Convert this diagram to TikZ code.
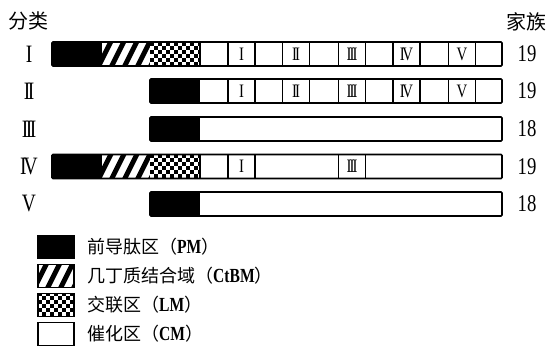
\documentclass[tikz,border=0pt]{standalone}
\usepackage{fontspec}
\setmainfont{Liberation Serif}[FakeStretch=0.78]
\newfontfamily\cjk{Noto Sans CJK SC}
\newcommand\rnI{I}
\newcommand\rnII{I\kern-0.1em I}
\newcommand\rnIII{I\kern-0.1em I\kern-0.1em I}
\newcommand\rnIV{I\kern-0.12em V}
\newcommand\rnV{V}
\newcommand\lgcjk[1]{{\cjk\fontsize{18}{18}\selectfont #1}}
\begin{document}
\begin{tikzpicture}[x=1pt,y=-1pt,
 seg/.style={inner sep=0pt, outer sep=0pt, minimum height=24pt, anchor=west},
 blk/.style={seg, fill=black},
 hatchfill/.style={path picture={
   \fill[white] (path picture bounding box.south west) rectangle (path picture bounding box.north east);
   \foreach \k in {-2,...,5}{
     \fill[black] ([xshift=\k*13pt+7pt]path picture bounding box.south west) -- ++(5.5,0) -- ++(12,-24) -- ++(-5.5,0) -- cycle;}
 }},
 checkfill/.style={path picture={
   \fill[white] (path picture bounding box.south west) rectangle (path picture bounding box.north east);
   \foreach \i in {0,...,12}{\foreach \j in {0,...,6}{
     \pgfmathtruncatemacro\p{mod(\i+\j,2)}
     \ifnum\p=1 \fill[black] ([xshift=\i*4pt,yshift=\j*4pt]path picture bounding box.south west) rectangle ++(4,-4);\fi}}
 }},
 frame/.style={seg, draw=black, line width=1.6pt, rounded corners=1pt},
 dom/.style={inner sep=0pt, outer sep=0pt, minimum height=24pt, draw=black, line width=1.6pt, minimum width=27pt, font=\fontsize{19}{19}\selectfont},
 rowlab/.style={font=\fontsize{25}{25}\selectfont},
 fam/.style={font=\fontsize{24}{24}\selectfont},
 head/.style={font=\cjk\fontsize{20}{20}\selectfont},
 legbox/.style={inner sep=0pt, outer sep=0pt, draw=black, line width=1.6pt, minimum width=36pt, minimum height=23pt, anchor=west},
 legtext/.style={anchor=west, font=\fontsize{20}{20}\selectfont, inner sep=0pt}
]
\useasboundingbox (0,0) rectangle (549,347);

% headers
\node[head] (hcls) at (29,21) {分类};
\node[head] (hfam) at (526,22) {家族};

% ---------- row I ----------
\node[blk, minimum width=50pt] (pm1) at (52,54) {};
\node[seg, hatchfill, minimum width=48pt] (cb1) at (102,54) {};
\node[seg, checkfill, minimum width=50pt] (lm1) at (150,54) {};
\node[frame, minimum width=450pt] (bar1) at (52,54) {};
\draw[line width=1.6pt] (lm1.north east) -- (lm1.south east);
\node[dom] (d11) at (241.5,54) {\rnI};
\node[dom] (d12) at (296,54) {\rnII};
\node[dom] (d13) at (352,54) {\rnIII};
\node[dom] (d14) at (406.5,54) {\rnIV};
\node[dom] (d15) at (462,54) {\rnV};

% ---------- row II ----------
\node[blk, minimum width=50pt] (pm2) at (150,91) {};
\node[frame, minimum width=352pt] (bar2) at (150,91) {};
\node[dom] (d21) at (241.5,91) {\rnI};
\node[dom] (d22) at (296,91) {\rnII};
\node[dom] (d23) at (352,91) {\rnIII};
\node[dom] (d24) at (406.5,91) {\rnIV};
\node[dom] (d25) at (462,91) {\rnV};

% ---------- row III ----------
\node[blk, minimum width=50pt] (pm3) at (150,129) {};
\node[frame, minimum width=352pt] (bar3) at (150,129) {};

% ---------- row IV ----------
\node[blk, minimum width=50pt] (pm4) at (52,166.5) {};
\node[seg, hatchfill, minimum width=48pt] (cb4) at (102,166.5) {};
\node[seg, checkfill, minimum width=50pt] (lm4) at (150,166.5) {};
\node[frame, minimum width=450pt] (bar4) at (52,166.5) {};
\draw[line width=1.6pt] (lm4.north east) -- (lm4.south east);
\node[dom] (d41) at (241.5,166.5) {\rnI};
\node[dom] (d43) at (352,166.5) {\rnIII};

% ---------- row V ----------
\node[blk, minimum width=50pt] (pm5) at (150,204) {};
\node[frame, minimum width=352pt] (bar5) at (150,204) {};

% row labels
\node[rowlab] (l1) at (29,54) {\rnI};
\node[rowlab] (l2) at (29,91) {\rnII};
\node[rowlab] (l3) at (29,129) {\rnIII};
\node[rowlab] (l4) at (29,166.5) {\rnIV};
\node[rowlab] (l5) at (29,204) {\rnV};

% family counts
\node[fam] (n1) at (527,54) {19};
\node[fam] (n2) at (527,91) {19};
\node[fam] (n3) at (527,129) {18};
\node[fam] (n4) at (527,166.5) {19};
\node[fam] (n5) at (527,204) {18};

% legend
\node[legbox, fill=black] (k1) at (38,247) {};
\node[legbox, hatchfill] (k2) at (38,276) {};
\node[legbox, checkfill] (k3) at (38,305) {};
\node[legbox, fill=white] (k4) at (38,334) {};
\node[legtext] (t1) at (87,247) {\lgcjk{前导肽区（}\textbf{PM}\lgcjk{）}};
\node[legtext] (t2) at (87,276) {\lgcjk{几丁质结合域（}\textbf{CtBM}\lgcjk{）}};
\node[legtext] (t3) at (87,305) {\lgcjk{交联区（}\textbf{LM}\lgcjk{）}};
\node[legtext] (t4) at (87,334) {\lgcjk{催化区（}\textbf{CM}\lgcjk{）}};
\end{tikzpicture}
\end{document}
